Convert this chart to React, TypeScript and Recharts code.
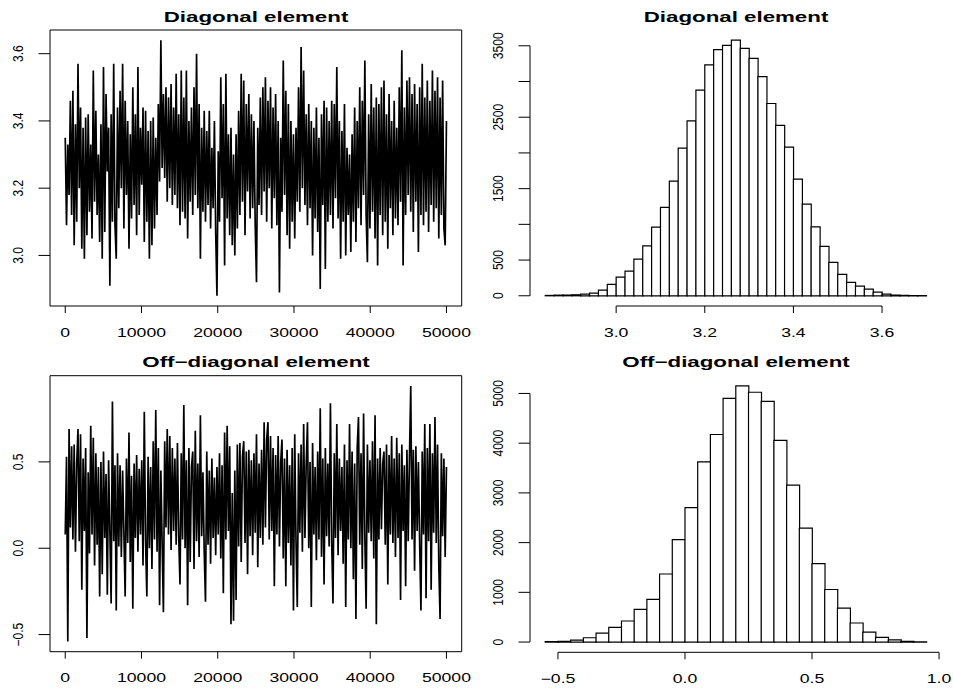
import React from 'react';
import { LineChart, Line, BarChart, Bar, XAxis, YAxis, ReferenceArea, ReferenceLine } from 'recharts';

const FONT = '"Liberation Sans", Arial, Helvetica, sans-serif';

// ---------- data ----------
const diagTrace = [
  3.35, 3.09, 3.33, 3.18, 3.46, 3.12, 3.49, 3.03, 3.39, 3.10,
  3.57, 3.20, 3.44, 3.02, 3.38, 2.99, 3.41, 3.06, 3.42, 3.13,
  3.33, 3.05, 3.55, 3.16, 3.43, 3.12, 3.30, 3.04, 3.39, 2.99,
  3.56, 3.07, 3.48, 3.25, 3.38, 2.91, 3.42, 3.10, 3.57, 3.09,
  2.99, 3.44, 3.14, 3.49, 3.20, 3.57, 3.08, 3.46, 3.18, 3.40,
  3.02, 3.36, 3.11, 3.50, 3.15, 3.42, 3.06, 3.56, 3.12, 3.38,
  3.21, 3.44, 3.04, 3.43, 3.10, 3.37, 2.99, 3.40, 3.03, 3.41,
  3.08, 3.35, 3.12, 3.45, 3.22, 3.64, 3.26, 3.48, 3.23, 3.50,
  3.16, 3.47, 3.20, 3.51, 3.15, 3.44, 3.18, 3.54, 3.14, 3.42,
  3.09, 3.55, 3.13, 3.47, 3.11, 3.55, 3.05, 3.40, 3.16, 3.44,
  3.12, 3.50, 3.18, 3.60, 3.14, 3.45, 2.99, 3.38, 3.13, 3.43,
  3.10, 3.37, 3.15, 3.43, 3.08, 3.32, 3.14, 3.40, 3.07, 2.88,
  3.31, 3.10, 3.53, 3.17, 3.45, 2.97, 3.54, 3.11, 3.36, 3.06,
  3.38, 3.03, 3.30, 3.00, 3.36, 3.08, 3.43, 3.12, 3.54, 3.16,
  3.52, 3.06, 3.45, 3.19, 3.48, 3.11, 3.42, 3.14, 3.40, 3.09,
  2.92, 3.38, 3.15, 3.47, 3.12, 3.50, 3.19, 3.53, 3.10, 3.46,
  3.20, 3.50, 3.08, 3.44, 3.17, 3.48, 3.09, 3.40, 2.89, 3.35,
  3.13, 3.58, 3.18, 3.49, 3.06, 3.45, 3.02, 3.40, 3.10, 3.36,
  3.05, 3.38, 3.16, 3.50, 3.13, 3.62, 3.20, 3.55, 3.15, 3.42,
  3.09, 3.45, 3.14, 3.40, 3.00, 3.38, 3.11, 3.44, 3.07, 3.35,
  2.90, 3.42, 3.15, 3.46, 2.96, 3.44, 3.10, 3.40, 3.12, 3.46,
  3.08, 3.45, 3.17, 3.56, 3.11, 3.40, 2.99, 3.37, 3.10, 3.45,
  3.00, 3.32, 3.12, 3.30, 3.01, 3.36, 3.10, 3.44, 3.04, 3.40,
  3.14, 3.50, 3.09, 3.46, 3.18, 3.58, 3.12, 2.98, 3.42, 3.08,
  3.51, 3.13, 3.44, 3.05, 3.47, 2.97, 3.45, 3.12, 3.50, 3.06,
  3.52, 3.10, 3.42, 3.02, 3.48, 3.14, 3.40, 3.06, 3.46, 3.11,
  3.38, 3.09, 3.50, 3.16, 3.61, 2.97, 3.44, 3.12, 3.52, 3.18,
  3.53, 3.13, 3.48, 3.07, 3.51, 3.16, 3.45, 3.01, 3.50, 3.12,
  3.57, 3.09, 3.47, 3.13, 3.52, 3.07, 3.46, 3.15, 3.55, 3.10,
  3.49, 3.14, 3.53, 3.05, 3.47, 3.12, 3.52, 3.08, 3.03, 3.40,
];

const offTrace = [
  0.08, 0.53, -0.54, 0.69, 0.12, 0.59, 0.05, 0.60, -0.02, 0.49,
  0.69, 0.04, 0.66, -0.24, 0.52, 0.10, 0.58, -0.52, 0.44, -0.03,
  0.71, 0.08, 0.64, -0.10, 0.55, 0.02, 0.47, -0.28, 0.50, -0.15,
  0.56, 0.06, 0.43, -0.27, 0.51, 0.10, -0.32, 0.85, 0.04, 0.48,
  -0.36, 0.55, 0.01, 0.48, -0.05, 0.45, 0.09, -0.28, 0.52, 0.03,
  0.67, -0.08, 0.42, -0.35, 0.49, 0.06, 0.54, -0.02, 0.46, 0.08,
  0.51, -0.10, 0.79, 0.04, -0.28, 0.53, 0.00, 0.47, -0.12, 0.62,
  0.05, 0.80, -0.02, 0.58, -0.33, 0.45, 0.03, -0.37, 0.62, 0.12,
  0.69, 0.08, 0.65, -0.01, 0.58, 0.10, 0.52, 0.02, 0.61, 0.07,
  -0.21, 0.55, 0.05, 0.83, 0.00, 0.51, -0.33, 0.58, -0.08, 0.47,
  0.56, -0.12, 0.68, 0.04, 0.49, -0.05, 0.77, 0.07, 0.44, -0.02,
  -0.31, 0.56, 0.02, 0.45, -0.09, 0.52, 0.06, 0.41, -0.04, 0.47,
  0.08, 0.55, -0.06, 0.48, -0.26, 0.67, 0.05, 0.71, 0.10, 0.59,
  -0.44, 0.32, -0.42, 0.45, -0.30, 0.60, 0.01, 0.61, -0.08, 0.53,
  0.62, 0.03, 0.56, -0.15, 0.57, 0.07, 0.51, -0.04, 0.55, 0.09,
  0.66, -0.11, 0.49, 0.06, 0.57, 0.02, 0.73, 0.12, 0.63, 0.73,
  0.05, 0.65, 0.10, 0.58, -0.22, 0.54, 0.08, 0.65, 0.01, 0.50,
  0.63, -0.06, 0.52, -0.22, 0.57, 0.03, 0.48, -0.10, 0.58, -0.36,
  0.66, 0.04, -0.34, 0.55, 0.09, 0.60, -0.02, 0.72, 0.06, 0.49,
  0.73, 0.00, 0.50, -0.34, 0.61, 0.08, 0.47, -0.07, 0.56, 0.05,
  0.81, -0.05, 0.52, -0.21, 0.58, 0.07, 0.49, 0.01, 0.84, 0.03,
  -0.32, 0.55, 0.06, 0.72, -0.04, 0.52, 0.10, 0.47, -0.09, 0.60,
  -0.34, 0.51, 0.05, 0.72, 0.00, 0.56, -0.18, 0.49, -0.41, 0.58,
  0.76, 0.02, 0.55, -0.12, 0.78, 0.06, -0.35, 0.60, 0.09, 0.51,
  0.04, 0.62, -0.06, 0.77, -0.44, 0.52, 0.05, 0.58, 0.11, 0.49,
  0.56, 0.02, 0.60, -0.21, 0.54, 0.08, 0.65, 0.03, 0.52, -0.05,
  0.64, 0.06, 0.55, -0.30, 0.60, 0.10, 0.48, -0.22, 0.57, 0.04,
  0.53, 0.94, 0.05, 0.57, -0.13, 0.59, 0.10, 0.50, 0.02, -0.36,
  0.56, 0.08, 0.72, -0.29, 0.58, 0.04, 0.72, -0.24, 0.55, 0.09,
  0.76, 0.03, 0.60, -0.10, -0.41, 0.55, 0.07, 0.52, -0.05, 0.47,
];

const ITERATIONS = 50000;
const iterTicks = [0, 10000, 20000, 30000, 40000, 50000];
const diagTraceTicks = [3.0, 3.2, 3.4, 3.6];
const offTraceTicks = [-0.5, 0.0, 0.5];

const diagBinStarts = [
  2.84, 2.86, 2.88, 2.90, 2.92, 2.94, 2.96, 2.98, 3.00, 3.02, 3.04, 3.06, 3.08, 3.10, 3.12,
  3.14, 3.16, 3.18, 3.20, 3.22, 3.24, 3.26, 3.28, 3.30, 3.32, 3.34, 3.36, 3.38, 3.40, 3.42,
  3.44, 3.46, 3.48, 3.50, 3.52, 3.54, 3.56, 3.58, 3.60, 3.62, 3.64, 3.66, 3.68,
];
const diagCounts = [
  5, 9, 10, 14, 23, 37, 79, 159, 261, 345, 513, 700, 961, 1237, 1605,
  2067, 2450, 2880, 3232, 3447, 3505, 3578, 3463, 3324, 3068, 2692, 2387, 2080, 1633, 1283,
  966, 691, 467, 299, 187, 135, 93, 51, 23, 9, 5, 3, 2,
];
const diagBinWidth = 0.02;
const diagHistXTicks = [3.0, 3.2, 3.4, 3.6];
const diagHistYTicks = [0, 500, 1000, 1500, 2000, 2500, 3000, 3500];
const diagHistYLabels = [0, 500, 1500, 2500, 3500];

const offBinStarts = [
  -0.55, -0.50, -0.45, -0.40, -0.35, -0.30, -0.25, -0.20, -0.15, -0.10, -0.05, 0.00, 0.05, 0.10, 0.15,
  0.20, 0.25, 0.30, 0.35, 0.40, 0.45, 0.50, 0.55, 0.60, 0.65, 0.70, 0.75, 0.80, 0.85, 0.90,
];
const offCounts = [
  10, 15, 40, 87, 181, 295, 423, 658, 859, 1369, 2060, 2705, 3624, 4174, 4899,
  5151, 5024, 4842, 4057, 3158, 2292, 1577, 1057, 682, 383, 198, 94, 44, 12, 6,
];
const offBinWidth = 0.05;
const offHistXTicks = [-0.5, 0.0, 0.5, 1.0];
const offHistYTicks = [0, 1000, 2000, 3000, 4000, 5000];
const offHistYLabels = [0, 1000, 2000, 3000, 4000, 5000];

// ---------- helpers ----------
const minus = (s: string) => s.replace('-', '\u2212');
const fmt1 = (v: number) => minus(v.toFixed(1));
const fmt0 = (v: number) => minus(String(v));

const rExtend = (lo: number, hi: number): [number, number] => {
  const r = hi - lo;
  return [lo - 0.04 * r, hi + 0.04 * r];
};

const traceRows = (vals: number[]) =>
  vals.map((v, i) => ({ iter: (i * ITERATIONS) / (vals.length - 1), value: v }));

const histRows = (starts: number[], counts: number[], w: number) =>
  starts.map((s, i) => ({ mid: s + w / 2, count: counts[i] }));

const XTick = (props: any) => {
  const { x, y, payload, format, labels } = props;
  if (labels && !labels.includes(payload.value)) return <g />;
  return (
    <text
      transform={`translate(${x},${y + 23.5}) scale(1.47,1)`}
      textAnchor="middle"
      fontFamily={FONT}
      fontSize={12}
      fill="#000"
    >
      {format(payload.value)}
    </text>
  );
};

const YTick = (props: any) => {
  const { x, y, payload, format, labels } = props;
  if (labels && !labels.includes(payload.value)) return <g />;
  return (
    <text
      transform={`translate(${x - 15.5},${y}) scale(1.2,1) rotate(-90)`}
      textAnchor="middle"
      fontFamily={FONT}
      fontSize={12}
      fill="#000"
    >
      {format(payload.value)}
    </text>
  );
};

type TraceProps = {
  vals: number[];
  yTicks: number[];
  height: number;
  top: number;
  xAxisHeight: number;
};

const TracePanel = ({ vals, yTicks, height, top, xAxisHeight }: TraceProps) => {
  const data = traceRows(vals);
  const xd = rExtend(0, ITERATIONS);
  const yd = rExtend(Math.min(...vals), Math.max(...vals));
  return (
    <LineChart width={480} height={height} data={data} margin={{ top, right: 18.3, bottom: 0, left: 0 }}>
      <XAxis
        dataKey="iter"
        type="number"
        domain={xd}
        ticks={iterTicks}
        allowDataOverflow
        axisLine={false}
        tickLine={{ stroke: '#000', strokeWidth: 1 }}
        tickSize={7}
        tickMargin={0}
        height={xAxisHeight}
        interval={0}
        tick={(p: any) => <XTick {...p} format={fmt0} />}
      />
      <YAxis
        type="number"
        domain={yd}
        ticks={yTicks}
        allowDataOverflow
        axisLine={false}
        tickLine={{ stroke: '#000', strokeWidth: 1 }}
        tickSize={11.5}
        tickMargin={0}
        width={50}
        interval={0}
        tick={(p: any) => <YTick {...p} format={fmt1} />}
      />
      <Line
        dataKey="value"
        stroke="#000"
        strokeWidth={1.7}
        strokeLinejoin="miter"
        dot={false}
        isAnimationActive={false}
        type="linear"
      />
      <ReferenceArea
        x1={xd[0]}
        x2={xd[1]}
        y1={yd[0]}
        y2={yd[1]}
        fill="none"
        fillOpacity={0}
        stroke="#000"
        strokeWidth={1}
        ifOverflow="visible"
      />
    </LineChart>
  );
};

type HistProps = {
  starts: number[];
  counts: number[];
  w: number;
  xTicks: number[];
  yTicks: number[];
  yLabels: number[];
  height: number;
  top: number;
  xAxisHeight: number;
};

const HistPanel = ({ starts, counts, w, xTicks, yTicks, yLabels, height, top, xAxisHeight }: HistProps) => {
  const data = histRows(starts, counts, w);
  const xd = rExtend(starts[0], starts[starts.length - 1] + w);
  const yd = rExtend(0, Math.max(...counts));
  return (
    <BarChart
      width={473}
      height={height}
      data={data}
      margin={{ top, right: 11.4, bottom: 0, left: 0 }}
      barCategoryGap={0}
      barGap={0}
    >
      <XAxis
        dataKey="mid"
        type="number"
        domain={xd}
        ticks={xTicks}
        allowDataOverflow
        axisLine={false}
        tickLine={{ stroke: '#000', strokeWidth: 1 }}
        tickSize={7}
        tickMargin={0}
        height={xAxisHeight}
        interval={0}
        tick={(p: any) => <XTick {...p} format={fmt1} />}
      />
      <YAxis
        type="number"
        domain={yd}
        ticks={yTicks}
        allowDataOverflow
        axisLine={false}
        tickLine={{ stroke: '#000', strokeWidth: 1 }}
        tickSize={11.5}
        tickMargin={0}
        width={50}
        interval={0}
        tick={(p: any) => <YTick {...p} format={fmt0} labels={yLabels} />}
      />
      <Bar dataKey="count" fill="#fff" stroke="#000" strokeWidth={1.2} isAnimationActive={false} />
      <ReferenceLine
        segment={[{ x: xTicks[0], y: yd[0] }, { x: xTicks[xTicks.length - 1], y: yd[0] }]}
        stroke="#000"
        strokeWidth={1}
        ifOverflow="visible"
      />
      <ReferenceLine
        segment={[{ x: xd[0], y: yTicks[0] }, { x: xd[0], y: yTicks[yTicks.length - 1] }]}
        stroke="#000"
        strokeWidth={1}
        ifOverflow="visible"
      />
    </BarChart>
  );
};

const Title = ({ x, y, text }: { x: number; y: number; text: string }) => (
  <text
    transform={`translate(${x},${y}) scale(1.55,1)`}
    textAnchor="middle"
    fontFamily={FONT}
    fontSize={14.4}
    fontWeight="bold"
    fill="#000"
  >
    {text}
  </text>
);

export default function App() {
  return (
    <div style={{ position: 'absolute', left: 0, top: 0, width: 953, height: 689, background: '#fff', overflow: 'hidden' }}>
      <div style={{ position: 'absolute', left: 0, top: 0 }}>
        <TracePanel vals={diagTrace} yTicks={diagTraceTicks} height={345} top={30} xAxisHeight={39} />
      </div>
      <div style={{ position: 'absolute', left: 480, top: 0 }}>
        <HistPanel
          starts={diagBinStarts}
          counts={diagCounts}
          w={diagBinWidth}
          xTicks={diagHistXTicks}
          yTicks={diagHistYTicks}
          yLabels={diagHistYLabels}
          height={345}
          top={30}
          xAxisHeight={39}
        />
      </div>
      <div style={{ position: 'absolute', left: 0, top: 345 }}>
        <TracePanel vals={offTrace} yTicks={offTraceTicks} height={344} top={30.7} xAxisHeight={37.3} />
      </div>
      <div style={{ position: 'absolute', left: 480, top: 345 }}>
        <HistPanel
          starts={offBinStarts}
          counts={offCounts}
          w={offBinWidth}
          xTicks={offHistXTicks}
          yTicks={offHistYTicks}
          yLabels={offHistYLabels}
          height={344}
          top={30.7}
          xAxisHeight={36.7}
        />
      </div>
      <svg width={953} height={689} style={{ position: 'absolute', left: 0, top: 0, pointerEvents: 'none' }}>
        <Title x={256} y={21.7} text="Diagonal element" />
        <Title x={736} y={21.7} text="Diagonal element" />
        <Title x={256} y={367} text={'Off\u2212diagonal element'} />
        <Title x={736} y={367} text={'Off\u2212diagonal element'} />
      </svg>
    </div>
  );
}
